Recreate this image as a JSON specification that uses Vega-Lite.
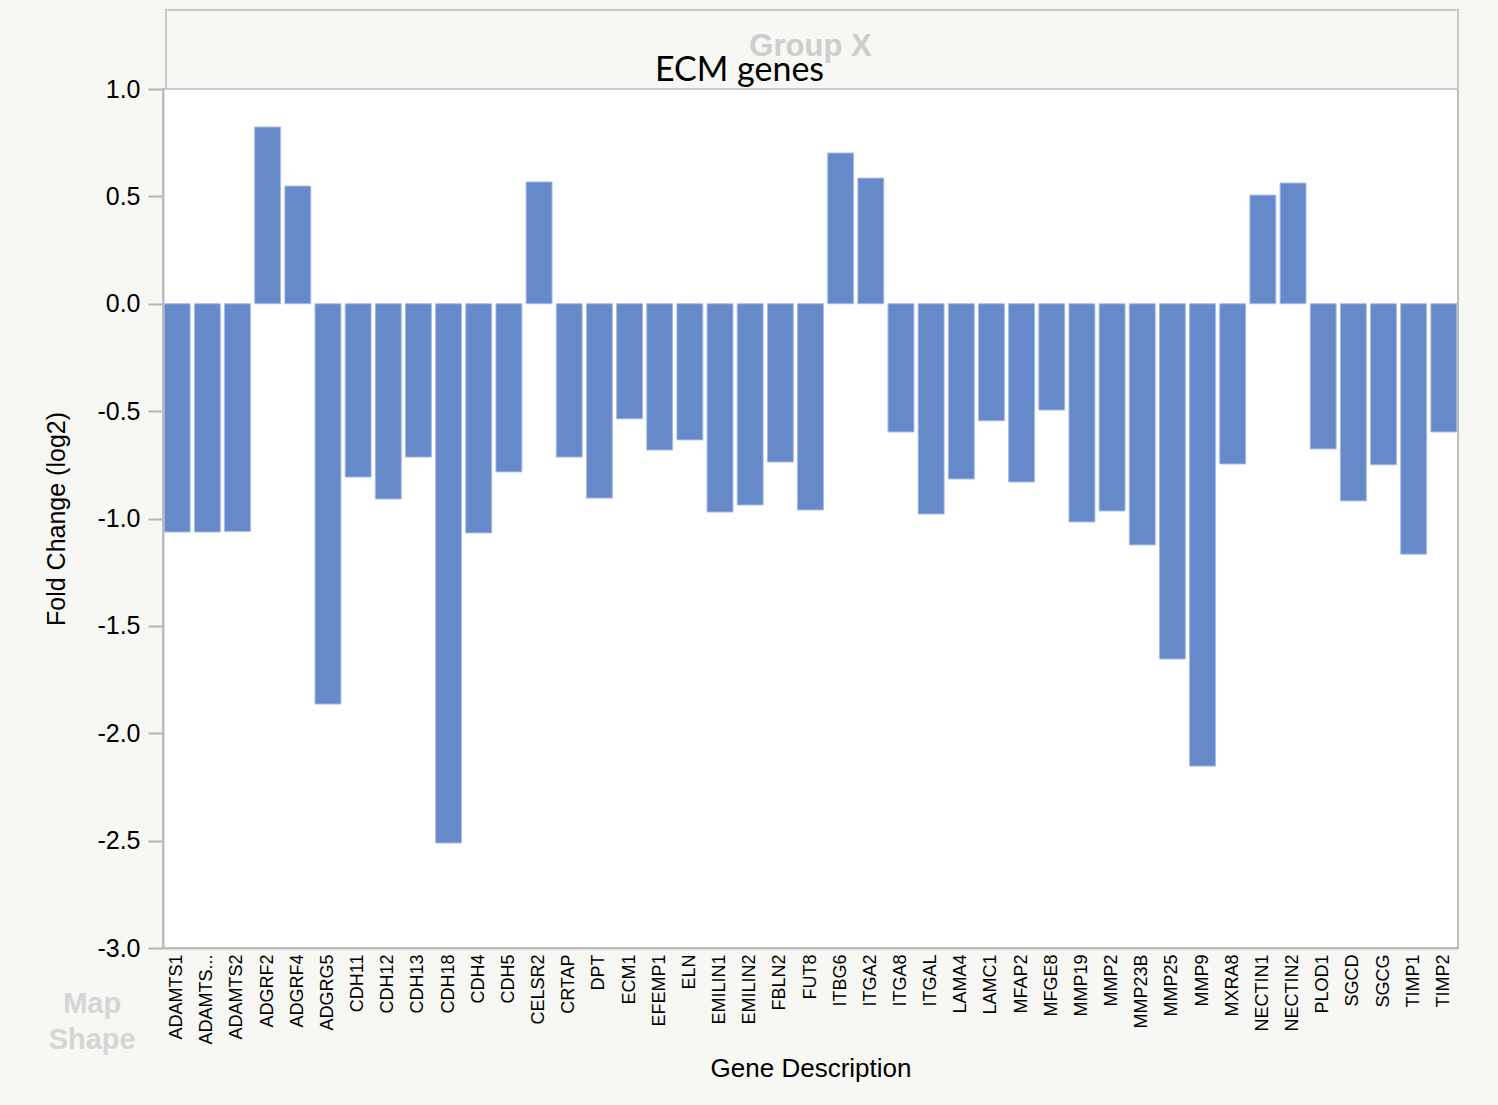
{
  "$schema": "https://vega.github.io/schema/vega-lite/v6.json",
  "width": 1295,
  "height": 859,
  "autosize": {"type": "none"},
  "padding": {"left": 163, "top": 89, "right": 40, "bottom": 157},
  "background": "#F7F7F3",
  "config": {
    "view": {"fill": "white", "stroke": "#BDBDBD", "strokeWidth": 2},
    "font": "Liberation Sans"
  },
  "data": {
    "values": [
      {"gene": "ADAMTS1", "fc": -1.063},
      {"gene": "ADAMTS...", "fc": -1.063},
      {"gene": "ADAMTS2", "fc": -1.06},
      {"gene": "ADGRF2", "fc": 0.823},
      {"gene": "ADGRF4", "fc": 0.548},
      {"gene": "ADGRG5", "fc": -1.864},
      {"gene": "CDH11", "fc": -0.807},
      {"gene": "CDH12", "fc": -0.909},
      {"gene": "CDH13", "fc": -0.714},
      {"gene": "CDH18", "fc": -2.511},
      {"gene": "CDH4", "fc": -1.067},
      {"gene": "CDH5", "fc": -0.783},
      {"gene": "CELSR2", "fc": 0.567},
      {"gene": "CRTAP", "fc": -0.714},
      {"gene": "DPT", "fc": -0.905},
      {"gene": "ECM1", "fc": -0.536},
      {"gene": "EFEMP1", "fc": -0.681},
      {"gene": "ELN", "fc": -0.634},
      {"gene": "EMILIN1", "fc": -0.97},
      {"gene": "EMILIN2", "fc": -0.937},
      {"gene": "FBLN2", "fc": -0.737},
      {"gene": "FUT8", "fc": -0.96},
      {"gene": "ITBG6", "fc": 0.702},
      {"gene": "ITGA2", "fc": 0.585},
      {"gene": "ITGA8", "fc": -0.597},
      {"gene": "ITGAL", "fc": -0.979},
      {"gene": "LAMA4", "fc": -0.816},
      {"gene": "LAMC1", "fc": -0.545},
      {"gene": "MFAP2", "fc": -0.83},
      {"gene": "MFGE8", "fc": -0.495},
      {"gene": "MMP19", "fc": -1.016},
      {"gene": "MMP2", "fc": -0.965},
      {"gene": "MMP23B", "fc": -1.123},
      {"gene": "MMP25", "fc": -1.654},
      {"gene": "MMP9", "fc": -2.153},
      {"gene": "MXRA8", "fc": -0.746},
      {"gene": "NECTIN1", "fc": 0.506},
      {"gene": "NECTIN2", "fc": 0.562},
      {"gene": "PLOD1", "fc": -0.676},
      {"gene": "SGCD", "fc": -0.918},
      {"gene": "SGCG", "fc": -0.75},
      {"gene": "TIMP1", "fc": -1.166},
      {"gene": "TIMP2", "fc": -0.597}
    ]
  },
  "layer": [
    {
      "mark": {"type": "bar", "color": "#6689C9", "stroke": "#A7BCE4", "strokeWidth": 1},
      "encoding": {
        "x": {
          "field": "gene",
          "type": "nominal",
          "sort": null,
          "scale": {"paddingInner": 0.14, "paddingOuter": 0.04},
          "axis": {
            "title": "Gene Description",
            "labelAngle": 270,
            "labelFontSize": 18,
            "labelColor": "black",
            "labelPadding": 6,
            "labelLimit": 0,
            "ticks": false,
            "domainColor": "#BDBDBD",
            "domainWidth": 2,
            "titleFontSize": 26,
            "titleFontWeight": "normal",
            "titleColor": "black",
            "titlePadding": 11
          }
        },
        "y": {
          "field": "fc",
          "type": "quantitative",
          "scale": {"domain": [-3, 1], "nice": false},
          "axis": {
            "title": "Fold Change (log2)",
            "values": [-3, -2.5, -2, -1.5, -1, -0.5, 0, 0.5, 1],
            "labelExpr": "replace(format(datum.value, '.1f'), '\u2212', '-')",
            "labelFontSize": 25,
            "labelColor": "black",
            "labelPadding": 8,
            "labelOverlap": false,
            "tickSize": 15,
            "tickColor": "#B5B5B5",
            "tickWidth": 2,
            "domainColor": "#BDBDBD",
            "domainWidth": 2,
            "grid": false,
            "titleFontSize": 25,
            "titleFontWeight": "normal",
            "titleColor": "black",
            "titlePadding": 27
          }
        }
      }
    },
    {
      "data": {"values": [{"label": "Group X", "top": 1.368, "bottom": 1.0}]},
      "mark": {"type": "rect", "fill": "transparent", "stroke": "#C8C8C8", "strokeWidth": 2, "clip": false},
      "encoding": {
        "x": {"value": 3},
        "x2": {"value": "width"},
        "y": {"field": "bottom", "type": "quantitative"},
        "y2": {"field": "top"}
      }
    },
    {
      "data": {"values": [{"label": "Group X", "pos": 1.196}]},
      "mark": {"type": "text", "font": "Liberation Sans", "fontSize": 31, "fontWeight": "bold", "color": "#CDCDCD", "baseline": "middle", "align": "center", "clip": false},
      "encoding": {
        "text": {"field": "label"},
        "y": {"field": "pos", "type": "quantitative"}
      }
    },
    {
      "data": {"values": [{"label": "ECM genes", "pos": 1.037}]},
      "mark": {"type": "text", "font": "Lato", "fontSize": 34, "fontWeight": "normal", "color": "black", "baseline": "alphabetic", "align": "center", "dx": -71, "clip": false},
      "encoding": {
        "text": {"field": "label"},
        "y": {"field": "pos", "type": "quantitative"}
      }
    },
    {
      "data": {"values": [{"label": "Map Shape", "gene": "ADAMTS1", "pos": -3.26}]},
      "mark": {"type": "text", "font": "Liberation Sans", "fontSize": 29, "fontWeight": "bold", "color": "#D5D5D5", "baseline": "middle", "align": "center", "lineHeight": 36, "dx": -85, "clip": false},
      "encoding": {
        "text": {"value": ["Map", "Shape"]},
        "x": {"field": "gene", "type": "nominal", "sort": null},
        "y": {"field": "pos", "type": "quantitative"}
      }
    }
  ]
}
